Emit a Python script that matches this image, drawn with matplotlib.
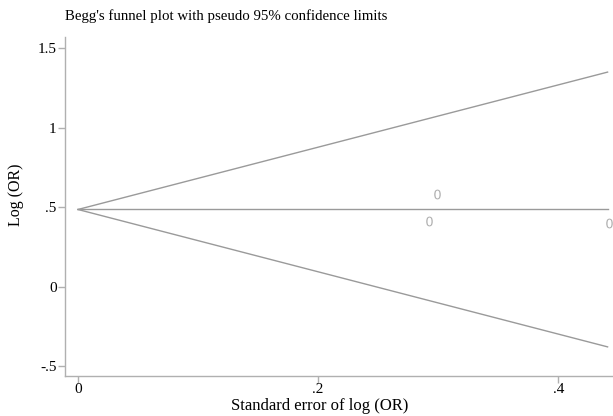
import matplotlib.pyplot as plt
import numpy as np

# study estimates
se_vals = [0.299, 0.292, 0.442]
log_or = [0.582, 0.412, 0.400]

pooled = 0.485
se_max = 0.441

xticks = [0, 0.2, 0.4]
xtick_labels = ["0", ".2", ".4"]
yticks = [-0.5, 0, 0.5, 1, 1.5]
ytick_labels = ["-.5", "0", ".5", "1", "1.5"]

plt.rcParams['font.family'] = ['Liberation Serif', 'DejaVu Serif']

fig = plt.figure(figsize=(6.13, 4.16), dpi=100)
ax = fig.add_axes([0.106, 0.096, 0.893, 0.815])

grey = '#9a9a9a'

# pseudo 95% limits
se = np.array([0, se_max])
ax.plot(se, pooled + 1.96 * se, color=grey, lw=1.0, clip_on=False)
ax.plot(se, pooled - 1.96 * se, color=grey, lw=1.0, clip_on=False)
ax.plot(se, [pooled, pooled], color=grey, lw=1.0, clip_on=False)

# studies
ax.scatter(se_vals, log_or, marker='$0$', s=50, color='#b0b0b0', linewidths=0, clip_on=False, zorder=3)

ax.set_xlim(-0.0108, 0.445)
ax.set_ylim(-0.563, 1.57)

ax.set_xticks(xticks)
ax.set_xticklabels(xtick_labels, fontsize=11)
ax.set_yticks(yticks)
ax.set_yticklabels(ytick_labels, fontsize=11)

for side in ['top', 'right']:
    ax.spines[side].set_visible(False)
for side in ['left', 'bottom']:
    ax.spines[side].set_color('#b0b0b0')
    ax.spines[side].set_linewidth(1.0)
ax.tick_params(colors='#b0b0b0', labelcolor='black', length=5, width=1.0, pad=1)
ax.tick_params(axis='x', pad=0)

ax.set_xlabel("Standard error of log (OR)", fontsize=12)
ax.xaxis.set_label_coords(0.466, -0.066)
ax.set_ylabel("Log (OR)", fontsize=11.5)
ax.yaxis.set_label_coords(-0.075, 0.534)

fig.text(65 / 613, 1 - 16 / 416, "Begg's funnel plot with pseudo 95% confidence limits",
         fontsize=10.7, va='center', ha='left')

fig.savefig("out.png", dpi=100)
